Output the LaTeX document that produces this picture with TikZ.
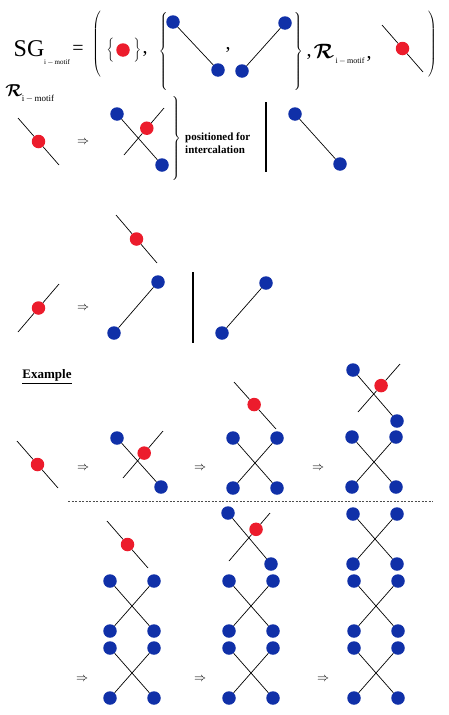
\documentclass[tikz,border=0pt]{standalone}
\usepackage{amsmath}
\usepackage{fontspec}
\setmainfont{Liberation Serif}
\usetikzlibrary{calc}
\definecolor{dotblue}{RGB}{16,48,168}
\definecolor{dotred}{RGB}{236,28,44}
\tikzset{
  bdot/.style={circle,fill=dotblue,inner sep=0pt,minimum size=13.5pt},
  rdot/.style={bdot,fill=dotred},
  strand/.style={line width=0.7pt,draw=black},
  sepbar/.style={line width=1.6pt},
  delim/.style={inner sep=0pt},
  impl/.style={inner sep=0pt,font=\fontsize{12}{12}\selectfont},
  sub/.style={inner sep=0pt,font=\fontsize{7}{7}\selectfont},
  punct/.style={inner sep=0pt,font=\fontsize{20}{20}\selectfont},
}
% stretchy delimiter of a given height
\newcommand{\tallfence}[2]{$\delimiterfactor=1000\delimitershortfall=0pt
  \left#1\vcenter{\hbox{\rule{0pt}{#2}}}\right.$}
% two blue pairs crossing: name, x, y of the upper left dot
\newcommand{\xcross}[3]{%
  \path (#2,#3) node[bdot] (#1a) {} ++(44,0) node[bdot] (#1b) {}
        ++(-44,50) node[bdot] (#1c) {} ++(44,0) node[bdot] (#1d) {};
  \draw[strand] (#1a) -- (#1d) (#1b) -- (#1c);}
% red residue on a free strand: name, start, end, position of the dot
\newcommand{\rmotif}[4]{%
  \coordinate (#1s) at #2; \coordinate (#1e) at #3;
  \node[rdot] (#1) at ($(#1s)!#4!(#1e)$) {};
  \draw[strand] (#1s) -- (#1) -- (#1e);}

\begin{document}
\begin{tikzpicture}[x=1pt,y=-1pt]
  \useasboundingbox (0,0) rectangle (448,715);

  % definition line
  \node[inner sep=0pt,font=\fontsize{24}{24}\selectfont] (sg) at (29,49) {SG};
  \node[sub] (sgsub) at (57,62) {i\,$-$\,motif};
  \node[inner sep=0pt,font=\fontsize{20}{20}\selectfont] (eq) at (78,50) {=};
  \node[delim] (lpar) at (97,44) {\tallfence{(}{66pt}};
  \node[delim] (rpar) at (433,44) {\tallfence{)}{66pt}};
  \node[delim] (lset) at (111,50) {\tallfence{\{}{24pt}};
  \node[rdot] (r0) at (123,50) {};
  \node[delim] (rset) at (138,50) {\tallfence{\}}{24pt}};
  \node[punct] (c1) at (145,54) {,};
  \node[delim] (lbig) at (164,51) {\tallfence{\{}{78pt}};
  \node[bdot] (p1) at (173,22) {};
  \node[bdot] (p2) at (218,70) {};
  \draw[strand] (p1) -- (p2);
  \node[punct] (c2) at (228,50) {,};
  \node[bdot] (p3) at (242,71) {};
  \node[bdot] (p4) at (285,23) {};
  \draw[strand] (p3) -- (p4);
  \node[delim] (rbig) at (299,51) {\tallfence{\}}{78pt}};
  \node[punct] (c3) at (309,57) {,};
  \node[inner sep=0pt,font=\fontsize{22}{22}\selectfont] (rr) at (324,51) {$\boldsymbol{\mathcal{R}}$};
  \node[sub,font=\fontsize{8}{8}\selectfont] (rrsub) at (350,61) {i\,$-$\,motif};
  \node[punct] (c4) at (369,59) {,};
  \rmotif{m0}{(382,25)}{(423,72)}{0.5}

  % rule for the descending strand
  \node[inner sep=0pt,font=\fontsize{19}{19}\selectfont] (rl) at (14,91) {$\boldsymbol{\mathcal{R}}$};
  \node[sub,font=\fontsize{9}{9}\selectfont] (rlsub) at (38,99) {i\,$-$\,motif};
  \rmotif{m1}{(18,118)}{(59,165)}{0.5}
  \node[impl] (i1) at (83,142) {$\Rightarrow$};
  \node[bdot] (q1) at (117,114) {};
  \node[bdot] (q2) at (162,165) {};
  \draw[strand] (q1) -- (q2);
  \rmotif{m2}{(164,108)}{(124,155)}{0.43}
  \node[delim] (pbr) at (177,138) {\tallfence{\}}{82pt}};
  \node[inner sep=0pt,align=left,anchor=west,
        font=\fontsize{11}{13}\selectfont\bfseries] (note) at (185,143)
        {positioned for\\intercalation};
  \draw[sepbar] (266,102) -- (266,172);
  \node[bdot] (q3) at (295,114) {};
  \node[bdot] (q4) at (340,164) {};
  \draw[strand] (q3) -- (q4);

  % rule for the ascending strand
  \rmotif{m3}{(116,215)}{(157,263)}{0.5}
  \rmotif{m4}{(59,284)}{(18,332)}{0.5}
  \node[impl] (i2) at (83,308) {$\Rightarrow$};
  \node[bdot] (s1) at (158,282) {};
  \node[bdot] (s2) at (114,333) {};
  \draw[strand] (s1) -- (s2);
  \draw[sepbar] (193,272) -- (193,343);
  \node[bdot] (s3) at (266,283) {};
  \node[bdot] (s4) at (222,333) {};
  \draw[strand] (s3) -- (s4);

  % example, first row
  \node[inner sep=0pt,font=\fontsize{13}{13}\selectfont\bfseries] (ex) at (47,377) {\underline{Example}};
  \rmotif{e0}{(17,441)}{(58,488)}{0.5}
  \node[impl] (i3) at (83,468) {$\Rightarrow$};
  \node[bdot] (e1a) at (117,438) {};
  \node[bdot] (e1b) at (161,487) {};
  \draw[strand] (e1a) -- (e1b);
  \rmotif{e1}{(163,431)}{(123,478)}{0.47}
  \node[impl] (i4) at (200,468) {$\Rightarrow$};
  \rmotif{e2}{(234,382)}{(276,429)}{0.48}
  \xcross{x2}{233}{438}
  \node[impl] (i5) at (318,468) {$\Rightarrow$};
  \node[bdot] (e3a) at (353,370) {};
  \node[bdot] (e3b) at (397,421) {};
  \draw[strand] (e3a) -- (e3b);
  \rmotif{e3}{(400,364)}{(358,412)}{0.45}
  \xcross{x3}{352}{437}

  \draw[line width=0.8pt,draw=black!70,dash pattern=on 2pt off 1.5pt] (68,501) -- (433,501);

  % example, second row
  \rmotif{e4}{(107,521)}{(148,568)}{0.5}
  \xcross{x4}{110}{581}
  \xcross{x5}{110}{648}
  \node[impl] (i6) at (82,679) {$\Rightarrow$};
  \node[bdot] (e5a) at (228,513) {};
  \node[bdot] (e5b) at (271,564) {};
  \draw[strand] (e5a) -- (e5b);
  \rmotif{e5}{(270,513)}{(229,561)}{0.34}
  \xcross{x6}{229}{581}
  \xcross{x7}{229}{648}
  \node[impl] (i7) at (200,679) {$\Rightarrow$};
  \xcross{x8}{353}{514}
  \xcross{x9}{354}{581}
  \xcross{x10}{354}{648}
  \node[impl] (i8) at (323,679) {$\Rightarrow$};
\end{tikzpicture}
\end{document}
